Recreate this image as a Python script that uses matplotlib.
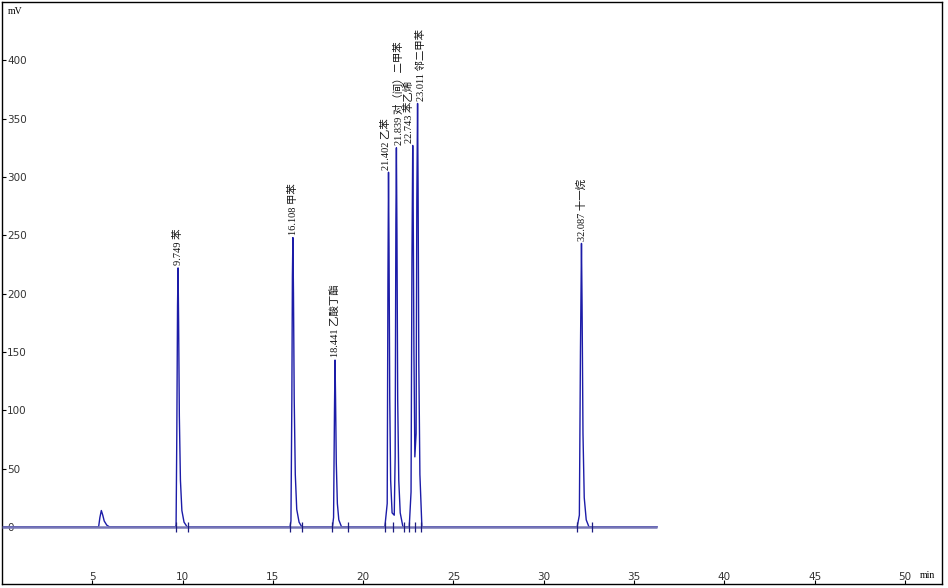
import matplotlib
matplotlib.use("Agg")
import matplotlib.pyplot as plt

# 色谱图数据 (min, mV)
trace_time = [0, 5.35, 5.42, 5.50, 5.58, 5.66, 5.80, 5.95,
              9.62, 9.64, 9.68, 9.72, 9.749, 9.78, 9.82, 9.88, 9.96, 10.08, 10.25,
              15.95, 16.00, 16.05, 16.08, 16.108, 16.14, 16.18, 16.24, 16.32, 16.45, 16.60,
              18.30, 18.36, 18.41, 18.441, 18.47, 18.51, 18.57, 18.65, 18.80,
              21.20, 21.33, 21.37, 21.402, 21.43, 21.47, 21.52, 21.60,
              21.72, 21.77, 21.81, 21.839, 21.87, 21.91, 21.97, 22.05, 22.20,
              22.55, 22.65, 22.70, 22.743, 22.77, 22.81, 22.86,
              22.93, 22.97, 23.011, 23.04, 23.08, 23.14, 23.25,
              31.85, 31.97, 32.03, 32.087, 32.12, 32.17, 32.24, 32.35, 32.50, 36.27]
trace_mv = [0, 0, 8, 14, 10, 5, 1.5, 0,
            0, 2, 80, 190, 222, 175, 95, 40, 14, 4, 0,
            0, 5, 110, 215, 248, 200, 110, 45, 15, 4, 0,
            0, 8, 100, 143, 110, 55, 20, 6, 0,
            0, 20, 210, 304, 240, 110, 40, 12,
            10, 60, 260, 325, 250, 110, 40, 12, 0,
            0, 30, 230, 327, 270, 150, 60,
            80, 280, 363, 290, 140, 45, 0,
            0, 10, 150, 243, 190, 80, 25, 6, 0, 0]

peak_rt = [9.749, 16.108, 18.441, 21.402, 21.839, 22.743, 23.011, 32.087]
peak_height = [222, 248, 143, 304, 325, 327, 363, 243]
peak_name = ["苯", "甲苯", "乙酸丁酯", "乙苯", "对（间）二甲苯", "苯乙烯", "邻二甲苯", "十一烷"]

# 积分起止标记
boundary_time = [9.62, 10.30, 15.92, 16.60, 18.30, 19.15,
                 21.18, 21.67, 22.28, 22.55, 22.87, 23.18, 31.85, 32.65]

y_ticks = [0, 50, 100, 150, 200, 250, 300, 350, 400]
x_ticks = [5, 10, 15, 20, 25, 30, 35, 40, 45, 50]

W, H = 948, 588
fig = plt.figure(figsize=(W / 100, H / 100), dpi=100)
ax = fig.add_axes([2 / W, 4 / H, 940 / W, 582 / H])

ax.plot(trace_time, trace_mv, color="#1c1ca8", lw=1.0, zorder=2)
ax.hlines(0, 0, trace_time[-1], color="#7676b6", lw=1.8, zorder=3)
ax.vlines(boundary_time, -4, 4, color="#1c1c80", lw=0.9, zorder=4)

# 挤在一起的标签稍微错开
nudge = {21.402: -1.5, 21.839: 1.5, 22.743: -2.5, 23.011: 2.5}
for rt, h, name in zip(peak_rt, peak_height, peak_name):
    ax.annotate(f"{rt:.3f} {name}", xy=(rt, h), xytext=(nudge.get(rt, 0), 2),
                textcoords="offset points", rotation=90, ha="center", va="bottom",
                fontsize=7.5, family=["Liberation Serif", "Noto Sans CJK SC"], color="#111111")

ax.set_xlim(0, 52.05)
ax.set_ylim(-49, 450)
ax.set_yticks(y_ticks)
ax.set_xticks(x_ticks)
ax.tick_params(axis="y", direction="in", length=3, pad=-3.8, labelsize=7.5, labelcolor="#333333")
ax.tick_params(axis="x", direction="in", length=3, pad=-1.5, labelsize=7.5, labelcolor="#333333")
for lab in ax.get_yticklabels():
    lab.set_horizontalalignment("left")
for lab in ax.get_xticklabels():
    lab.set_verticalalignment("bottom")
for s in ax.spines.values():
    s.set_linewidth(1.0)

fig.text(8 / W, 1 - 12 / H, "mV", fontsize=7, family="Liberation Serif", va="center", ha="left")
fig.text(927 / W, 1 - 576 / H, "min", fontsize=7, family="Liberation Serif", va="center", ha="center")

fig.savefig("out.png", dpi=100)
